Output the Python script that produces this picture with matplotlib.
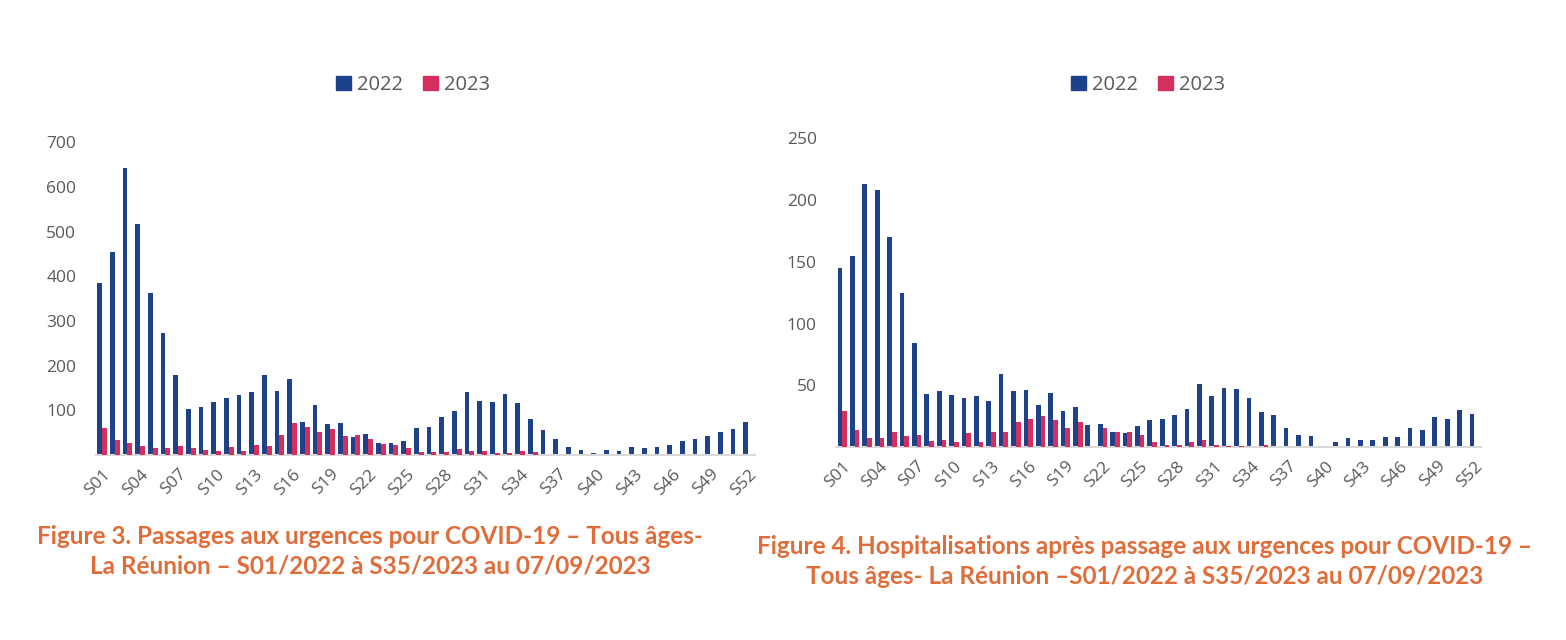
import matplotlib
matplotlib.use("Agg")
import matplotlib.pyplot as plt
from matplotlib.patches import Patch
import numpy as np

weeks = [f"S{i:02d}" for i in range(1, 53)]

urg_2022 = [384, 454, 642, 517, 363, 272, 179, 104, 108, 119, 127, 134, 140, 180,
            144, 169, 74, 111, 69, 72, 40, 46, 26, 26, 31, 61, 62, 84, 99, 140,
            120, 118, 137, 116, 80, 55, 36, 17, 12, 5, 12, 10, 17, 16, 17, 22,
            31, 35, 43, 51, 58, 74]
urg_2023 = [60, 34, 26, 21, 16, 16, 21, 16, 11, 10, 19, 10, 22, 21, 44, 71, 63,
            52, 58, 43, 44, 35, 25, 22, 15, 7, 7, 7, 13, 10, 8, 4, 4, 10, 7]

hosp_2022 = [145, 155, 213, 208, 170, 125, 84, 43, 45, 42, 40, 41, 37, 59, 45,
             46, 34, 44, 29, 32, 18, 19, 12, 11, 17, 22, 23, 26, 31, 51, 41, 48,
             47, 40, 28, 26, 15, 10, 9, 1, 4, 7, 6, 6, 8, 8, 15, 14, 24, 23, 30, 27]
hosp_2023 = [29, 14, 7, 7, 12, 9, 10, 5, 6, 4, 11, 4, 12, 12, 20, 23, 25, 22, 15,
             20, 0, 15, 12, 12, 10, 4, 2, 2, 4, 6, 2, 1, 1, 0, 2]

series_labels = ["2022", "2023"]
left_yticks = [100, 200, 300, 400, 500, 600, 700]
right_yticks = [50, 100, 150, 200, 250]

title_left = ("Figure 3. Passages aux urgences pour COVID-19 – Tous âges-\n"
              "La Réunion – S01/2022 à S35/2023 au 07/09/2023")
title_right = ("Figure 4. Hospitalisations après passage aux urgences pour COVID-19 –\n"
               "Tous âges- La Réunion –S01/2022 à S35/2023 au 07/09/2023")

BLUE = "#1D428A"
RED = "#D62F5E"
GRAY = "#595959"
AXIS = "#D9D9D9"
ORANGE = "#DF6D3A"

W, H = 1566, 640
plt.rcParams['font.family'] = ['Open Sans', 'DejaVu Sans']
fig = plt.figure(figsize=(W / 100, H / 100), dpi=100)


def make_axes(left_px, right_px, bottom_px, top_px):
    return fig.add_axes([left_px / W, 1 - bottom_px / H,
                         (right_px - left_px) / W, (bottom_px - top_px) / H])


def draw(ax, v22, v23, ymax, yticks):
    x = np.arange(len(weeks))
    bw = 0.38
    ax.bar(x - 0.19, v22, width=bw, color=BLUE, zorder=2)
    x23 = np.arange(len(v23))
    ax.bar(x23 + 0.19, v23, width=bw, color=RED, zorder=3)
    ax.set_xlim(-0.5, len(weeks) - 0.5)
    ax.set_ylim(0, ymax)
    ax.set_yticks(yticks)
    ax.set_yticklabels([str(t) for t in yticks])
    ax.set_xticks(x[::3])
    ax.set_xticklabels(weeks[::3], rotation=45, ha='right', va='top',
                       rotation_mode='anchor')
    for s in ['top', 'right', 'left']:
        ax.spines[s].set_visible(False)
    ax.spines['bottom'].set_color(AXIS)
    ax.spines['bottom'].set_linewidth(1.5)
    ax.tick_params(axis='y', length=0, pad=14, labelsize=12.5, labelcolor=GRAY)
    ax.tick_params(axis='x', length=0, pad=8, labelsize=12.5, labelcolor=GRAY)


axL = make_axes(95.8, 754.5, 455, 142.2)
draw(axL, urg_2022, urg_2023, 700, left_yticks)
axR = make_axes(836.2, 1480.5, 447, 138.3)
draw(axR, hosp_2022, hosp_2023, 250, right_yticks)

handles = [Patch(color=BLUE), Patch(color=RED)]
for cx in (413 / W, 1148 / W):
    fig.legend(handles, series_labels, loc='center', bbox_to_anchor=(cx, 1 - 85 / H),
               ncol=2, frameon=False, fontsize=14.5, labelcolor=GRAY,
               handlelength=0.75, handleheight=0.75, handletextpad=0.3,
               columnspacing=1.0)

fig.text(370 / W, 1 - 551 / H, title_left, ha='center', va='center',
         fontsize=17.5, fontweight='bold', color=ORANGE, family=['Lato', 'DejaVu Sans'],
         linespacing=1.36)
fig.text(1145 / W, 1 - 561.5 / H, title_right, ha='center', va='center',
         fontsize=17.5, fontweight='bold', color=ORANGE, family=['Lato', 'DejaVu Sans'],
         linespacing=1.36)

fig.savefig("out.png", dpi=100, facecolor='white')
